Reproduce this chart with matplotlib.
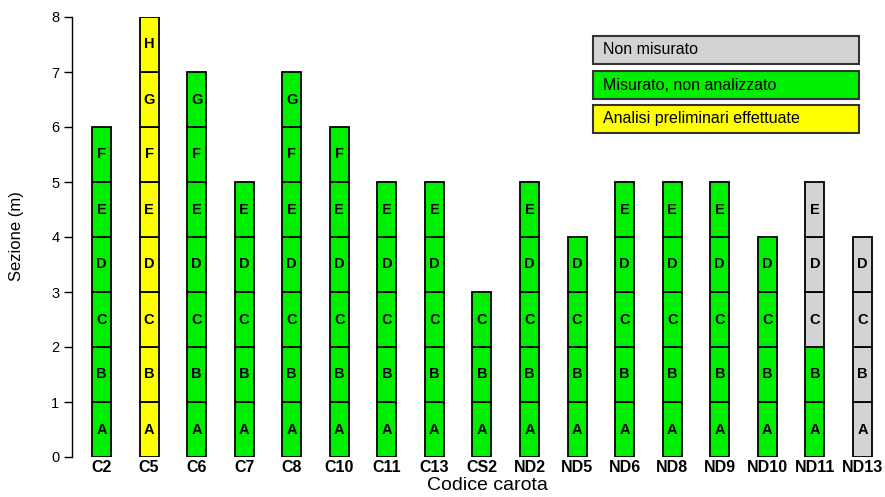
import matplotlib
matplotlib.use("Agg")
import matplotlib.pyplot as plt
from matplotlib.patches import Rectangle

plt.rcParams['font.family'] = ['Liberation Sans', 'DejaVu Sans']

cores = ["C2", "C5", "C6", "C7", "C8", "C10", "C11", "C13", "CS2", "ND2",
         "ND5", "ND6", "ND8", "ND9", "ND10", "ND11", "ND13"]
n_sections = [6, 8, 7, 5, 7, 6, 5, 5, 3, 5, 4, 5, 5, 5, 4, 5, 4]
n_measured = [6, 8, 7, 5, 7, 6, 5, 5, 3, 5, 4, 5, 5, 5, 4, 2, 0]
analysed = [False, True, False, False, False, False, False, False, False, False,
            False, False, False, False, False, False, False]
section_letters = ["A", "B", "C", "D", "E", "F", "G", "H"]
legend_labels = ["Non misurato", "Misurato, non analizzato", "Analisi preliminari effettuate"]

c_gray = "#D3D3D3"
c_green = "#00EE00"
c_yellow = "#FFFF00"
legend_colors = [c_gray, c_green, c_yellow]

W, H = 885, 497
fig = plt.figure(figsize=(W / 100, H / 100), dpi=100)
ax = fig.add_axes([72 / W, 1 - 457 / H, 1 - 72 / W, (457 - 17) / H])

for i, core in enumerate(cores):
    x = i + 1
    for k in range(n_sections[i]):
        if k >= n_measured[i]:
            col = c_gray
        elif analysed[i]:
            col = c_yellow
        else:
            col = c_green
        ax.bar(x, 1, bottom=k, width=0.40, color=col, edgecolor="black", linewidth=1.3)
        ax.text(x, k + 0.5, section_letters[k], ha="center", va="center",
                fontsize=10.5, fontweight="bold")

ax.set_xlim(0.38, 17.474)
ax.set_ylim(0, 8)
ax.set_xticks(range(1, len(cores) + 1))
ax.set_xticklabels(cores, fontweight="bold", fontsize=11.5)
ax.tick_params(axis="x", length=0, pad=2)
ax.set_yticks(range(0, 9))
ax.tick_params(axis="y", length=6, width=1, labelsize=10.5, pad=3)
for s in ["top", "right", "bottom"]:
    ax.spines[s].set_visible(False)
ax.spines["left"].set_linewidth(1)

fig.text(17 / W, 1 - 236 / H, "Sezione (m)", rotation=90, ha="center", va="center", fontsize=12)
fig.text(487 / W, 1 - 486 / H, "Codice carota", ha="center", va="center", fontsize=14)

# legend boxes
box_tops = [36, 71, 105]
for top, lab, col in zip(box_tops, legend_labels, legend_colors):
    r = Rectangle((593 / W, 1 - (top + 28) / H), (859 - 593) / W, 28 / H,
                  transform=fig.transFigure, facecolor=col, edgecolor="#333333",
                  linewidth=1.5)
    fig.patches.append(r)
    fig.text(603 / W, 1 - (top + 14) / H, lab, ha="left", va="center", fontsize=11.5)

fig.savefig("out.png", dpi=100)
